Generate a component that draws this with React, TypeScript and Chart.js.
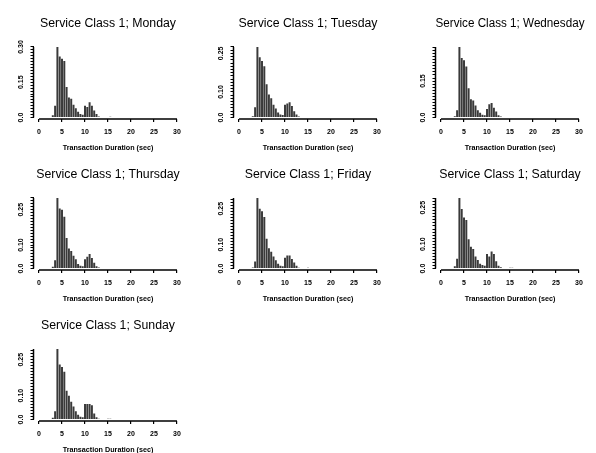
import React, { useEffect, useRef } from 'react';
import { Chart, registerables } from 'chart.js';

Chart.register(...registerables);

// ---- data ----
const BIN_WIDTH = 0.5;
const binStarts = [
  2.75, 3.25, 3.75, 4.25, 4.75, 5.25, 5.75, 6.25, 6.75, 7.25, 7.75, 8.25, 8.75,
  9.25, 9.75, 10.25, 10.75, 11.25, 11.75, 12.25, 12.75, 13.25, 13.75, 14.25, 14.75, 15.25,
];

const monday = [0.01, 0.05, 0.30, 0.26, 0.25, 0.24, 0.13, 0.085, 0.08, 0.055, 0.04, 0.025, 0.015, 0.012, 0.05, 0.045, 0.065, 0.05, 0.03, 0.015, 0.005, 0, 0, 0, 0, 0.004];
const tuesday = [0.005, 0.04, 0.275, 0.235, 0.22, 0.2, 0.13, 0.09, 0.075, 0.05, 0.035, 0.02, 0.012, 0.01, 0.05, 0.055, 0.06, 0.045, 0.025, 0.012, 0.004, 0, 0, 0, 0, 0.002];
const wednesday = [0.005, 0.03, 0.29, 0.245, 0.235, 0.21, 0.12, 0.075, 0.07, 0.05, 0.03, 0.02, 0.012, 0.01, 0.035, 0.055, 0.06, 0.04, 0.025, 0.01, 0.004, 0, 0, 0, 0, 0];
const thursday = [0.008, 0.035, 0.30, 0.255, 0.25, 0.22, 0.13, 0.085, 0.075, 0.055, 0.04, 0.02, 0.012, 0.01, 0.04, 0.05, 0.062, 0.045, 0.025, 0.01, 0.005, 0, 0, 0, 0, 0.003];
const friday = [0.005, 0.03, 0.295, 0.25, 0.24, 0.215, 0.125, 0.085, 0.07, 0.05, 0.035, 0.02, 0.012, 0.01, 0.045, 0.055, 0.055, 0.04, 0.025, 0.012, 0.004, 0, 0, 0, 0.003, 0.002];
const saturday = [0.01, 0.04, 0.29, 0.245, 0.21, 0.2, 0.12, 0.09, 0.08, 0.05, 0.035, 0.02, 0.015, 0.012, 0.06, 0.05, 0.07, 0.06, 0.03, 0.012, 0.005, 0, 0, 0, 0.003, 0.003];
const sunday = [0.008, 0.035, 0.295, 0.23, 0.22, 0.2, 0.12, 0.1, 0.075, 0.055, 0.035, 0.02, 0.012, 0.01, 0.065, 0.065, 0.065, 0.06, 0.025, 0.01, 0.004, 0, 0, 0, 0.004, 0.004];

const yLabelsA = [0, 0.15, 0.3];
const yLabelsB = [0, 0.1, 0.25];
const xTickLabels = [0, 5, 10, 15, 20, 25, 30];
const Y_MINOR_STEP = 0.0125;
const X_MIN = -1.2;
const X_MAX = 31.2;

const panels = [
  { day: 'Monday', values: monday, yLabels: yLabelsA, col: 0, row: 0 },
  { day: 'Tuesday', values: tuesday, yLabels: yLabelsB, col: 1, row: 0 },
  { day: 'Wednesday', values: wednesday, yLabels: yLabelsA, col: 2, row: 0 },
  { day: 'Thursday', values: thursday, yLabels: yLabelsB, col: 0, row: 1 },
  { day: 'Friday', values: friday, yLabels: yLabelsB, col: 1, row: 1 },
  { day: 'Saturday', values: saturday, yLabels: yLabelsB, col: 2, row: 1 },
  { day: 'Sunday', values: sunday, yLabels: yLabelsB, col: 0, row: 2 },
];

const COL_X = [0, 200, 402];
const ROW_Y = [0, 151, 302];
const W = 200;
const H = 156;
const FONT = "'Liberation Sans', Arial, sans-serif";

const axisLines = {
  id: 'axisLines',
  afterDraw(chart: any) {
    const { ctx, chartArea, scales } = chart;
    const x = scales.x;
    const y = scales.y;
    const yTop = chart.options.plugins.axisLines.yTop;
    ctx.save();
    ctx.strokeStyle = '#000';
    ctx.lineWidth = 1.5;
    ctx.beginPath();
    ctx.moveTo(x.getPixelForValue(xTickLabels[0]), chartArea.bottom);
    ctx.lineTo(x.getPixelForValue(xTickLabels[xTickLabels.length - 1]), chartArea.bottom);
    ctx.moveTo(chartArea.left, y.getPixelForValue(0));
    ctx.lineTo(chartArea.left, y.getPixelForValue(yTop));
    ctx.stroke();
    ctx.restore();
  },
};

function Panel({ day, values, yLabels, left, top }: any) {
  const ref = useRef<HTMLCanvasElement>(null);
  useEffect(() => {
    const yMax = Math.max(...values);
    const chart = new Chart(ref.current as HTMLCanvasElement, {
      type: 'bar',
      data: {
        datasets: [
          {
            data: binStarts.map((s, i) => ({ x: s + BIN_WIDTH / 2, y: values[i] })),
            backgroundColor: '#3a3a3a',
            borderWidth: 0,
            barPercentage: 1,
            categoryPercentage: 0.86,
          } as any,
        ],
      },
      plugins: [axisLines],
      options: {
        animation: false,
        responsive: false,
        devicePixelRatio: 1,
        layout: { padding: { left: 0, right: 17.5, top: 0, bottom: 0 } },
        plugins: {
          legend: { display: false },
          tooltip: { enabled: false },
          title: {
            display: true,
            text: `Service Class 1; ${day}`,
            color: '#000',
            fullSize: false,
            font: { family: FONT, size: 12.3, weight: 'normal' },
            padding: { top: 16.5, bottom: 15.7 },
          },
          axisLines: { yTop: yMax },
        } as any,
        scales: {
          x: {
            type: 'linear',
            min: X_MIN,
            max: X_MAX,
            offset: false,
            afterBuildTicks: (scale: any) => {
              scale.ticks = xTickLabels.map((v) => ({ value: v }));
            },
            afterFit: (scale: any) => {
              scale.height = 37;
            },
            ticks: {
              autoSkip: false,
              maxRotation: 0,
              minRotation: 0,
              padding: 6,
              color: '#000',
              font: { family: FONT, size: 7, weight: 'bold' },
              callback: (v: any) => String(v),
            },
            grid: { drawOnChartArea: false, drawTicks: true, tickLength: 3, color: '#000', lineWidth: 1.2, offset: false },
            border: { display: false },
            title: {
              display: true,
              text: 'Transaction Duration (sec)',
              color: '#000',
              font: { family: FONT, size: 7.2, weight: 'bold' },
              padding: { top: 0, bottom: 3.2 },
            },
          },
          y: {
            type: 'linear',
            min: -yMax * 0.02,
            max: yMax,
            afterBuildTicks: (scale: any) => {
              const t: any[] = [];
              const n = Math.floor(yMax / Y_MINOR_STEP + 1e-6);
              for (let k = 0; k <= n; k++) t.push({ value: k * Y_MINOR_STEP });
              scale.ticks = t;
            },
            afterFit: (scale: any) => {
              scale.width = 33.5;
            },
            ticks: {
              autoSkip: false,
              minRotation: 90,
              maxRotation: 90,
              crossAlign: 'center',
              padding: 3,
              color: '#000',
              font: { family: FONT, size: 7, weight: 'bold' },
              callback: (v: any) => {
                const hit = yLabels.find((l: number) => Math.abs(l - v) < 1e-6);
                if (hit === undefined) return '';
                return hit === 0 ? '0.0' : hit.toFixed(2);
              },
            },
            grid: { drawOnChartArea: false, drawTicks: true, tickLength: 3, color: '#000', lineWidth: 1 },
            border: { display: false },
          },
        },
      } as any,
    });
    return () => chart.destroy();
  }, []);
  return (
    <canvas
      ref={ref}
      width={W}
      height={H}
      style={{ position: 'absolute', left, top, width: W, height: H }}
    />
  );
}

export default function App() {
  return (
    <div
      style={{
        position: 'absolute',
        left: 0,
        top: 0,
        width: 596,
        height: 453,
        overflow: 'hidden',
        background: '#fff',
      }}
    >
      {panels.map((p) => (
        <Panel
          key={p.day}
          day={p.day}
          values={p.values}
          yLabels={p.yLabels}
          left={COL_X[p.col]}
          top={ROW_Y[p.row]}
        />
      ))}
    </div>
  );
}
